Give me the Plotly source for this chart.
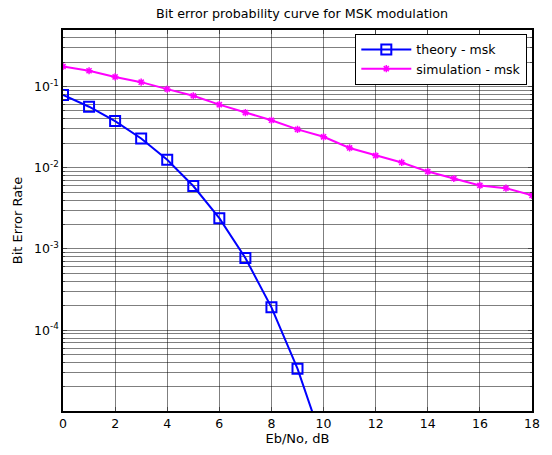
import plotly.graph_objects as go

ebno_theory = [0, 1, 2, 3, 4, 5, 6, 7, 8, 9, 10]
ber_theory = [0.0786, 0.0563, 0.0375, 0.0229, 0.0125, 0.00595, 0.00239, 0.000773, 0.000191, 3.36e-5, 3.87e-6]

ebno_sim = list(range(0, 19))
ber_sim = [0.176, 0.156, 0.131, 0.113, 0.0927, 0.0769, 0.0597, 0.0477, 0.0384, 0.0296,
           0.024, 0.0175, 0.0141, 0.0116, 0.00896, 0.00736, 0.00605, 0.0056, 0.00457]

x_ticks = [0, 2, 4, 6, 8, 10, 12, 14, 16, 18]
y_ticks = [1e-4, 1e-3, 1e-2, 1e-1]
y_tick_text = ["10<sup>-4</sup>", "10<sup>-3</sup>", "10<sup>-2</sup>", "10<sup>-1</sup>"]
y_minor = [m * 10.0 ** e for e in range(-5, 0) for m in range(2, 10)]

fig = go.Figure()
fig.add_trace(go.Scatter(
    x=ebno_theory, y=ber_theory, mode="lines+markers", name="theory - msk",
    line=dict(color="#0000ff", width=2),
    marker=dict(symbol="square-open", size=10, color="#0000ff", line=dict(width=2, color="#0000ff")),
))
fig.add_trace(go.Scatter(
    x=ebno_sim, y=ber_sim, mode="lines+markers", name="simulation - msk",
    line=dict(color="#ff00ff", width=2),
    marker=dict(symbol="asterisk-open", size=6, color="#ff00ff", line=dict(width=1.5, color="#ff00ff")),
))

font = "DejaVu Sans, Arial, sans-serif"
grid_col = "rgba(0,0,0,0.5)"
fig.update_layout(
    width=552, height=455,
    margin=dict(l=63, r=14, t=30, b=42),
    paper_bgcolor="white", plot_bgcolor="white",
    font=dict(family=font, size=12, color="black"),
    title=dict(text="Bit error probability curve for MSK modulation", x=302 / 552, xanchor="center",
               y=1 - 14 / 455, yanchor="middle", font=dict(size=12.7)),
    legend=dict(x=0.99, y=0.99, xanchor="right", yanchor="top",
                bgcolor="white", bordercolor="black", borderwidth=1,
                font=dict(size=12.5), itemwidth=50, tracegroupgap=2),
    showlegend=True,
)
fig.update_xaxes(
    range=[0, 18], tickvals=x_ticks, ticks="inside", ticklen=4, mirror="ticks",
    showline=True, linecolor="black", linewidth=1.5,
    showgrid=True, gridcolor=grid_col, gridwidth=1, zeroline=False,
    title=dict(text="Eb/No, dB", font=dict(size=13), standoff=3),
    tickfont=dict(size=12.5),
)
fig.update_yaxes(
    type="log", range=[-4.995, -0.305], tickvals=y_ticks, ticktext=y_tick_text,
    ticks="inside", ticklen=4, mirror="ticks",
    showline=True, linecolor="black", linewidth=1.5,
    showgrid=True, gridcolor=grid_col, gridwidth=1, zeroline=False,
    minor=dict(tickvals=y_minor, ticks="inside", ticklen=2, showgrid=True, gridcolor=grid_col, gridwidth=1),
    title=dict(text="Bit Error Rate", font=dict(size=13), standoff=9),
    tickfont=dict(size=12.5),
)

fig.write_html("out.html")
